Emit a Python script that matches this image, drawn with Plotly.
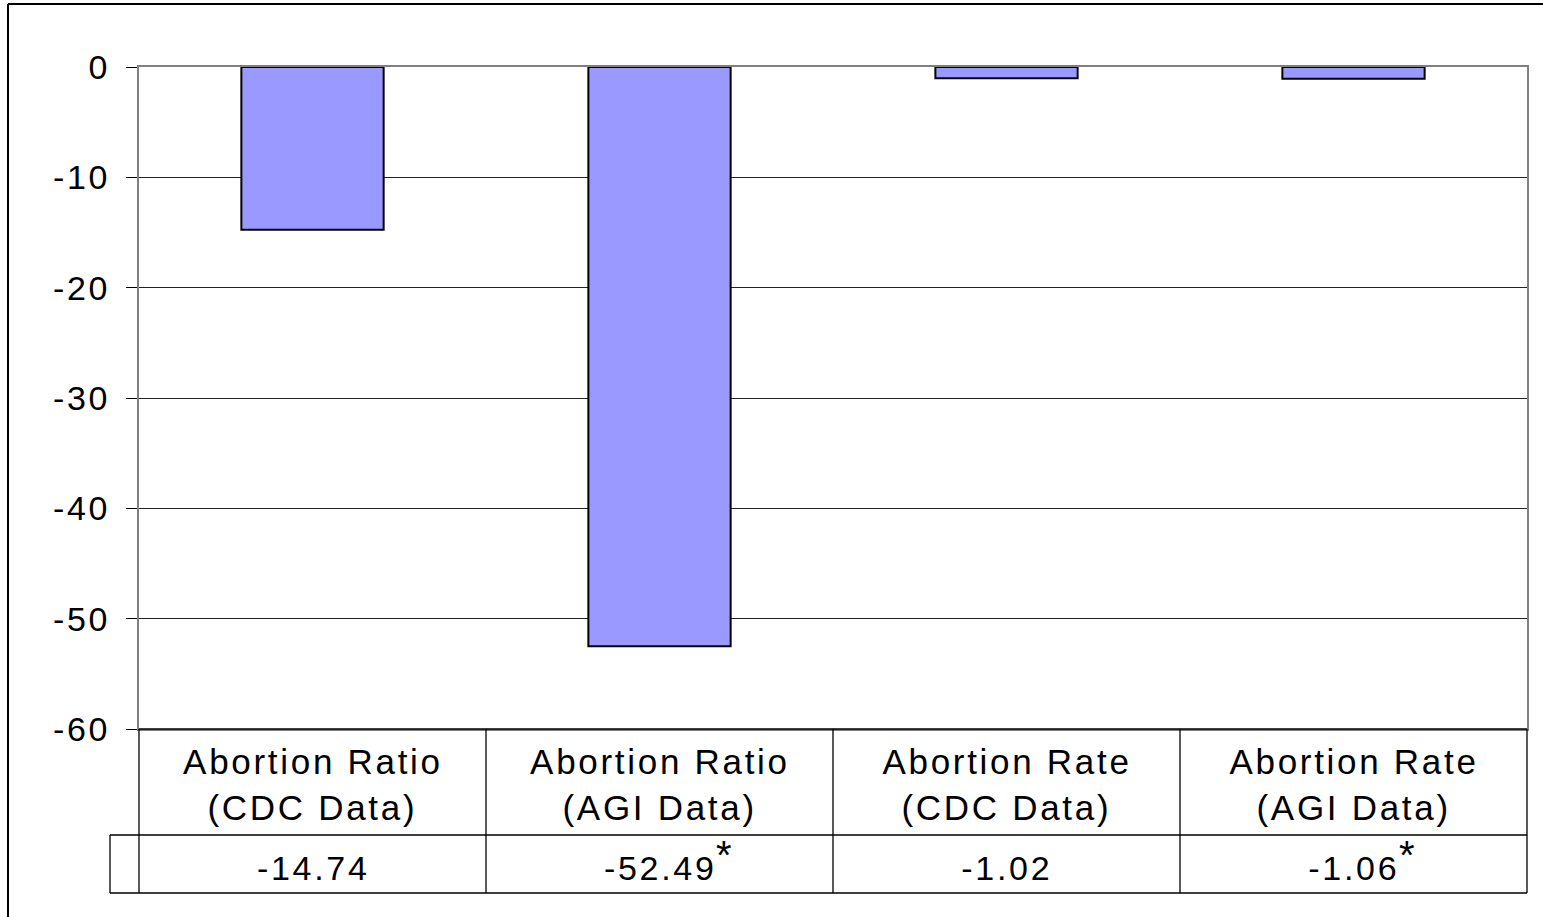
import plotly.graph_objects as go

# ---- data ----
cat_line1 = ["Abortion Ratio", "Abortion Ratio", "Abortion Rate", "Abortion Rate"]
cat_line2 = ["(CDC Data)", "(AGI Data)", "(CDC Data)", "(AGI Data)"]
values = [-14.74, -52.49, -1.02, -1.06]
value_labels = ["-14.74", "-52.49", "-1.02", "-1.06"]
starred = [False, True, False, True]
y_tickvals = [0, -10, -20, -30, -40, -50, -60]
y_ticktext = ["0", "-10", "-20", "-30", "-40", "-50", "-60"]

W, H = 1543, 917
L, R, T, B = 139, 1527, 67, 729  # plot area in pixels
FONT = "Liberation Sans, Arial, sans-serif"
VAL_SIZE = 34
SPACING = 2.7  # px letter spacing applied to texts

# Arial advance widths (em) for measuring value labels
CHAR_W = {"-": 0.333, ".": 0.278}
CHAR_W.update({d: 0.556 for d in "0123456789"})


def px(xp):
    return (xp - L) / (R - L)


def py(yp):
    return (B - yp) / (B - T)


def text_width(s, size):
    return sum(CHAR_W.get(c, 0.556) for c in s) * size + SPACING * len(s)


xs = list(range(len(values)))

fig = go.Figure()
fig.add_trace(go.Bar(
    x=xs, y=values, width=0.41,
    marker=dict(color="#9999FF", line=dict(color="black", width=2)),
    hoverinfo="skip",
))

shapes = []
def line(x0, y0, x1, y1, color="black", width=1.3):
    shapes.append(dict(type="line", xref="paper", yref="paper",
                       x0=px(x0), y0=py(y0), x1=px(x1), y1=py(y1),
                       line=dict(color=color, width=width)))

# outer border (extends off-canvas right/bottom)
line(8, 4, W + 20, 4, width=2)
line(8, 4, 8, H + 20, width=2)

# data table
line(L, B, R, B)
line(110, 835, R, 835)
line(110, 893, R, 893)
line(110, 835, 110, 893)
n = len(values)
for i in range(n + 1):
    xp = L + (R - L) * i / n
    line(xp, B, xp, 893)

annotations = []
for i in range(n):
    annotations.append(dict(
        xref="x", yref="paper", x=xs[i], y=py(761), text=cat_line1[i],
        showarrow=False, xanchor="center", yanchor="middle",
        font=dict(family=FONT, size=35, color="black")))
    annotations.append(dict(
        xref="x", yref="paper", x=xs[i], y=py(807), text=cat_line2[i],
        showarrow=False, xanchor="center", yanchor="middle",
        font=dict(family=FONT, size=35, color="black")))
    annotations.append(dict(
        xref="x", yref="paper", x=xs[i], y=py(868), text=value_labels[i],
        showarrow=False, xanchor="center", yanchor="middle",
        font=dict(family=FONT, size=VAL_SIZE, color="black")))
    if starred[i]:
        annotations.append(dict(
            xref="x", yref="paper", x=xs[i], y=py(868), text="*",
            xshift=text_width(value_labels[i], VAL_SIZE) / 2 + 8, yshift=13,
            showarrow=False, xanchor="center", yanchor="middle",
            font=dict(family=FONT, size=40, color="black")))

fig.update_layout(
    width=W, height=H,
    margin=dict(l=L, r=W - R, t=T, b=H - B, pad=0),
    paper_bgcolor="white", plot_bgcolor="white",
    showlegend=False,
    bargap=0,
    shapes=shapes,
    annotations=annotations,
    xaxis=dict(range=[-0.5, n - 0.5], showticklabels=False, ticks="",
               showgrid=False, zeroline=False, showline=True,
               linecolor="#808080", linewidth=2, mirror=True, fixedrange=True),
    yaxis=dict(range=[-60, 0], tickvals=y_tickvals, ticktext=y_ticktext,
               ticks="outside", ticklen=11, tickcolor="black", tickwidth=1,
               ticklabelstandoff=9,
               tickfont=dict(family=FONT, size=34, color="black"),
               showgrid=True, gridcolor="#222222", gridwidth=1,
               zeroline=False, showline=True, linecolor="#808080",
               linewidth=2, mirror=True, fixedrange=True),
)

post = (
    "document.body.style.margin='0px';"
    "document.body.style.overflow='hidden';"
    "document.querySelectorAll('text.annotation-text, g.ytick text')"
    ".forEach(function(t){ if (t.textContent !== '*') "
    "{ t.style.letterSpacing='%spx'; } });" % SPACING
)

fig.write_html("out.html", post_script=post,
               config={"displayModeBar": False, "staticPlot": True})
